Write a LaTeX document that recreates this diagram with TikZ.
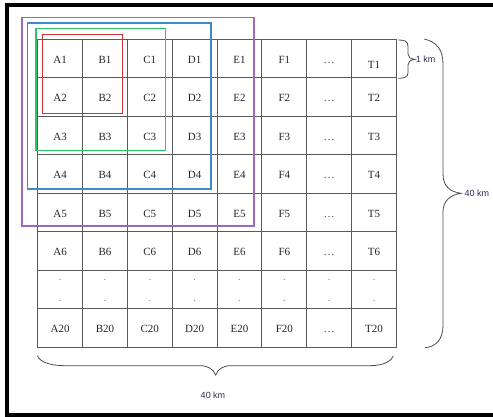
\documentclass[tikz,border=0pt]{standalone}
\usepackage{fontspec}
\setmainfont{Liberation Serif}
\newfontfamily\kmfont{Liberation Sans}
\definecolor{gridc}{RGB}{90,90,90}
\definecolor{purp}{RGB}{155,105,195}
\definecolor{bluec}{RGB}{58,140,205}
\definecolor{greenc}{RGB}{45,196,99}
\definecolor{redc}{RGB}{210,50,55}
\definecolor{kmc}{RGB}{46,42,85}
\tikzset{
  cell/.style={draw=gridc, line width=1pt, minimum width=44.85pt, minimum height=38.5pt, inner sep=0pt},
  lab/.style={inner sep=0pt, text height=8pt, text depth=0pt, yshift=-0.6pt, font=\fontsize{11}{12}\selectfont, text=black!85},
  sel/.style={line width=1.3pt},
  brc/.style={draw=black!70, line width=0.8pt},
  km/.style={font=\kmfont\fontsize{9}{10}\selectfont, text=kmc, inner sep=0pt}
}
\begin{document}
\begin{tikzpicture}[x=1pt,y=-1pt]
\useasboundingbox (0,0) rectangle (493,416);
\draw[line width=4pt] (493,5.3) -- (7,5.3) -- (7,414.8) -- (493,414.8);
% grid cells
\foreach \c in {1,...,8}{
  \foreach \i in {1,...,8}{
    \pgfmathsetmacro{\xx}{37.7+44.85*(\c-0.5)}
    \pgfmathsetmacro{\yy}{39.3+38.5*(\i-0.5)}
    \node[cell] (c-\i-\c) at (\xx,\yy) {};
  }
}
% labels
\foreach \lab [count=\c] in {A,B,C,D,E,F}{
  \foreach \r in {1,...,6}{
    \node[lab] (t-\r-\c) at (c-\r-\c) {\lab\r};
  }
  \node[lab] (t-8-\c) at (c-8-\c) {\lab20};
}
\foreach \i in {1,...,6}{
  \node[lab, text=black!70] (t-\i-7) at (c-\i-7) {\dots};
}
\node[lab, text=black!70] (t-8-7) at (c-8-7) {\dots};
\node[lab] (t-1-8) at ([yshift=-5pt]c-1-8) {T1};
\foreach \i in {2,...,6}{
  \node[lab] (t-\i-8) at (c-\i-8) {T\i};
}
\node[lab] (t-8-8) at (c-8-8) {T20};
\foreach \c in {1,...,8}{
  \node[inner sep=0pt, font=\fontsize{10.5}{12}\selectfont, text=gray, align=center] (t-7-\c) at ([yshift=-0.5pt]c-7-\c) {.\\[9pt].};
}
% selection rectangles
\draw[sel, draw=purp] (22,17.3) rectangle (254,226);
\draw[sel, draw=bluec] (27.7,23) rectangle (211,189);
\draw[sel, draw=greenc] (36,28.7) rectangle (165.3,150.7);
\draw[sel, draw=redc] (42.7,34.3) rectangle (122.7,113.3);
% braces
\draw[brc] (398.3,40) .. controls (404,40) and (408,41) .. (408,46) -- (408,54)
  .. controls (408,57) and (410,59) .. (415,59.3)
  .. controls (410,60) and (408,62) .. (408,65) -- (408,73)
  .. controls (408,77) and (404,78.3) .. (398.3,78.3);
\node[km, anchor=west] (km1) at (415.7,59.6) {1 km};
\draw[brc] (424.3,39) .. controls (437,42) and (443,50) .. (443,64) -- (443,174)
  .. controls (443,186) and (450,192) .. (461,193.3)
  .. controls (450,195) and (443,201) .. (443,212) -- (443,326)
  .. controls (443,340) and (435,347) .. (425,347.7);
\node[km, anchor=west] (km40r) at (464.5,193.6) {40 km};
\draw[brc] (37.3,355.7) .. controls (40,362) and (50,365.7) .. (65,365.7) -- (200,365.7)
  .. controls (208,365.7) and (213,369) .. (215.7,375)
  .. controls (218,369) and (223,365.7) .. (231,365.7) -- (370,365.7)
  .. controls (385,365.7) and (392,360) .. (393.3,356);
\node[km] (km40b) at (213,395.7) {40 km};
\end{tikzpicture}
\end{document}
